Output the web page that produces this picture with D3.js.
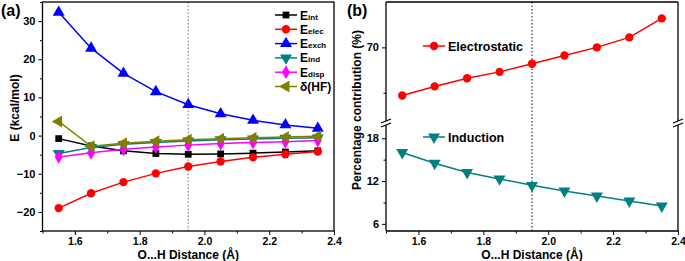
<!DOCTYPE html>
<html>
<head>
<meta charset="utf-8">
<script src="https://cdn.jsdelivr.net/npm/d3@7"></script>
<style>
  body { margin: 0; background: #fff; }
  text { font-family: Arial, "Liberation Sans", sans-serif; font-weight: bold; }
</style>
</head>
<body>
<div id="chart"></div>
<script>
// ---------------- data ----------------
var distances = [1.55, 1.65, 1.75, 1.85, 1.95, 2.05, 2.15, 2.25, 2.35];

// panel (a) energy terms, kcal/mol
var eInt  = [-0.8, -2.7, -4.0, -4.7, -4.9, -4.8, -4.6, -4.3, -4.0];
var eElec = [-19.0, -15.1, -12.2, -9.9, -8.1, -6.8, -5.7, -4.9, -4.2];
var eExch = [32.3, 22.9, 16.3, 11.5, 8.1, 5.7, 4.0, 2.8, 1.9];
var eInd  = [-4.7, -3.1, -2.3, -1.8, -1.4, -1.1, -0.9, -0.7, -0.6];
var eDisp = [-5.6, -4.5, -3.6, -3.0, -2.5, -2.1, -1.8, -1.6, -1.3];
var dHF   = [3.7, -2.8, -2.0, -1.5, -1.1, -0.8, -0.6, -0.4, -0.2];

// panel (b) percentage contributions
var pctElec = [64.7, 65.7, 66.6, 67.3, 68.2, 69.1, 70.0, 71.1, 73.2];
var pctInd  = [16.0, 14.5, 13.2, 12.3, 11.4, 10.6, 9.9, 9.2, 8.5];

var xTicks = [1.6, 1.8, 2.0, 2.2, 2.4];
var xMinor = [1.5, 1.7, 1.9, 2.1, 2.3];
var yTicksA = [-20, -10, 0, 10, 20, 30];
var yMinorA = [-25, -15, -5, 5, 15, 25, 35];
var yTicksUp = [70], yMinorUp = [65];
var yTicksLow = [6, 12, 18], yMinorLow = [9, 15];
var refDistance = 1.95;

var seriesA = [
  {name: 'E', sub: 'int',  values: eInt,  color: '#000000', shape: 'square'},
  {name: 'E', sub: 'elec', values: eElec, color: '#ff0000', shape: 'circle'},
  {name: 'E', sub: 'exch', values: eExch, color: '#0000ff', shape: 'up'},
  {name: 'E', sub: 'ind',  values: eInd,  color: '#008080', shape: 'down'},
  {name: 'E', sub: 'disp', values: eDisp, color: '#ff00ff', shape: 'diamond'},
  {name: '\u03b4(HF)', sub: '', values: dHF, color: '#808000', shape: 'left'}
];

// ---------------- svg ----------------
var W = 685, H = 261;
var svg = d3.select('#chart').append('svg').attr('width', W).attr('height', H);

var plotTop = 2, plotBottom = 231;

function symbolPath(shape) {
  var type = {square: d3.symbolSquare, circle: d3.symbolCircle, diamond: d3.symbolDiamond}[shape] || d3.symbolTriangle;
  var size = {square: 46, circle: 55, diamond: 55}[shape] || 62;
  return d3.symbol().type(type).size(size)();
}
function symbolRot(shape) {
  return {down: 180, left: -90}[shape] || 0;
}
function drawMarker(g, x, y, shape, color) {
  g.append('path')
    .attr('d', symbolPath(shape))
    .attr('transform', 'translate(' + x + ',' + y + ') rotate(' + symbolRot(shape) + ')')
    .attr('fill', color);
}
function drawSeries(g, x, y, vals, color, shape) {
  var line = d3.line().x(function (d, i) { return x(distances[i]); }).y(function (d) { return y(d); });
  g.append('path').datum(vals).attr('d', line)
    .attr('fill', 'none').attr('stroke', color).attr('stroke-width', 1.5);
  vals.forEach(function (v, i) { drawMarker(g, x(distances[i]), y(v), shape, color); });
}
function xAxis(g, x) {
  g.append('g').attr('transform', 'translate(0,' + plotBottom + ')')
    .call(d3.axisBottom(x).tickValues(xTicks).tickSize(4).tickPadding(2.5).tickFormat(d3.format('.1f')))
    .call(function (a) { a.select('.domain').remove(); a.selectAll('text').attr('font-size', 10.5); });
  g.append('g').attr('transform', 'translate(0,' + plotBottom + ')')
    .call(d3.axisBottom(x).tickValues(xMinor).tickSize(2.5).tickFormat(''))
    .call(function (a) { a.select('.domain').remove(); });
}
function yAxis(g, xPos, y, major, minor) {
  g.append('g').attr('transform', 'translate(' + xPos + ',0)')
    .call(d3.axisLeft(y).tickValues(major).tickSize(4))
    .call(function (a) { a.select('.domain').remove(); a.selectAll('text').attr('font-size', 11); });
  g.append('g').attr('transform', 'translate(' + xPos + ',0)')
    .call(d3.axisLeft(y).tickValues(minor).tickSize(2.5).tickFormat(''))
    .call(function (a) { a.select('.domain').remove(); });
}

// ---------------- panel (a) ----------------
var gA = svg.append('g');
var xA = d3.scaleLinear().domain([1.5, 2.4]).range([42.5, 334]);
var yA = d3.scaleLinear().domain([-25, 35]).range([plotBottom, plotTop]);

gA.append('line').attr('x1', xA(refDistance)).attr('x2', xA(refDistance))
  .attr('y1', plotTop).attr('y2', plotBottom)
  .attr('stroke', '#888').attr('stroke-width', 1.2).attr('stroke-dasharray', '1.5,2');

seriesA.forEach(function (s) { drawSeries(gA, xA, yA, s.values, s.color, s.shape); });

gA.append('rect').attr('x', xA.range()[0]).attr('y', plotTop)
  .attr('width', xA.range()[1] - xA.range()[0]).attr('height', plotBottom - plotTop)
  .attr('fill', 'none').attr('stroke', '#000').attr('stroke-width', 1.3);
xAxis(gA, xA);
yAxis(gA, xA.range()[0], yA, yTicksA, yMinorA);

// legend (a)
seriesA.forEach(function (s, i) {
  var ly = 15 + i * 14.3;
  gA.append('line').attr('x1', 275).attr('x2', 297).attr('y1', ly).attr('y2', ly)
    .attr('stroke', s.color).attr('stroke-width', 1.5);
  drawMarker(gA, 286, ly, s.shape, s.color);
  var t = gA.append('text').attr('x', 300).attr('y', ly + 4.5).attr('font-size', 12);
  t.append('tspan').text(s.name);
  if (s.sub) t.append('tspan').attr('font-size', 8).text(s.sub);
});

gA.append('text').attr('transform', 'translate(19,108) rotate(-90)')
  .attr('text-anchor', 'middle').attr('font-size', 12).text('E (kcal/mol)');
gA.append('text').attr('x', (xA.range()[0] + xA.range()[1]) / 2).attr('y', 258.5)
  .attr('text-anchor', 'middle').attr('font-size', 12).text('O...H Distance (\u00c5)');
gA.append('text').attr('x', 1).attr('y', 16).attr('font-size', 16).text('(a)');

// ---------------- panel (b) ----------------
var gB = svg.append('g');
var xB = d3.scaleLinear().domain([1.5, 2.4]).range([386, 678]);
var breakY = 123;
var yUp = d3.scaleLinear().domain([62, 75]).range([breakY - 3, plotTop]);
var yLow = d3.scaleLinear().domain([5, 20]).range([plotBottom, breakY + 1]);

gB.append('line').attr('x1', xB(refDistance)).attr('x2', xB(refDistance))
  .attr('y1', plotTop).attr('y2', plotBottom)
  .attr('stroke', '#334') .attr('stroke-width', 1.2).attr('stroke-dasharray', '1.5,2');

drawSeries(gB, xB, yUp, pctElec, '#ff0000', 'circle');
drawSeries(gB, xB, yLow, pctInd, '#008080', 'down');

var x0 = xB.range()[0], x1 = xB.range()[1];
var frame = [
  [x0, plotTop, x1, plotTop], [x0, plotBottom, x1, plotBottom],
  [x0, plotTop, x0, breakY - 2], [x0, breakY + 2, x0, plotBottom],
  [x1, plotTop, x1, breakY - 2], [x1, breakY + 2, x1, plotBottom]
];
frame.forEach(function (f) {
  gB.append('line').attr('x1', f[0]).attr('y1', f[1]).attr('x2', f[2]).attr('y2', f[3])
    .attr('stroke', '#000').attr('stroke-width', 1.3);
});
[x0, x1].forEach(function (bx) {
  [-2, 2].forEach(function (o) {
    gB.append('line').attr('x1', bx - 5).attr('y1', breakY + o + 2).attr('x2', bx + 5).attr('y2', breakY + o - 2)
      .attr('stroke', '#000').attr('stroke-width', 1.2);
  });
});
xAxis(gB, xB);
yAxis(gB, x0, yUp, yTicksUp, yMinorUp);
yAxis(gB, x0, yLow, yTicksLow, yMinorLow);

// inline labels (b)
[[46, 'Electrostatic', '#ff0000', 'circle'], [137, 'Induction', '#008080', 'down']].forEach(function (l) {
  gB.append('line').attr('x1', 423).attr('x2', 445).attr('y1', l[0]).attr('y2', l[0])
    .attr('stroke', l[2]).attr('stroke-width', 1.5);
  drawMarker(gB, 434, l[0], l[3], l[2]);
  gB.append('text').attr('x', 448).attr('y', l[0] + 4.5).attr('font-size', 12.5).text(l[1]);
});

gB.append('text').attr('transform', 'translate(361,110) rotate(-90)')
  .attr('text-anchor', 'middle').attr('font-size', 12).text('Percentage contribution (%)');
gB.append('text').attr('x', (x0 + x1) / 2).attr('y', 258.5)
  .attr('text-anchor', 'middle').attr('font-size', 12).text('O...H Distance (\u00c5)');
gB.append('text').attr('x', 347).attr('y', 16).attr('font-size', 16).text('(b)');
</script>
</body>
</html>
